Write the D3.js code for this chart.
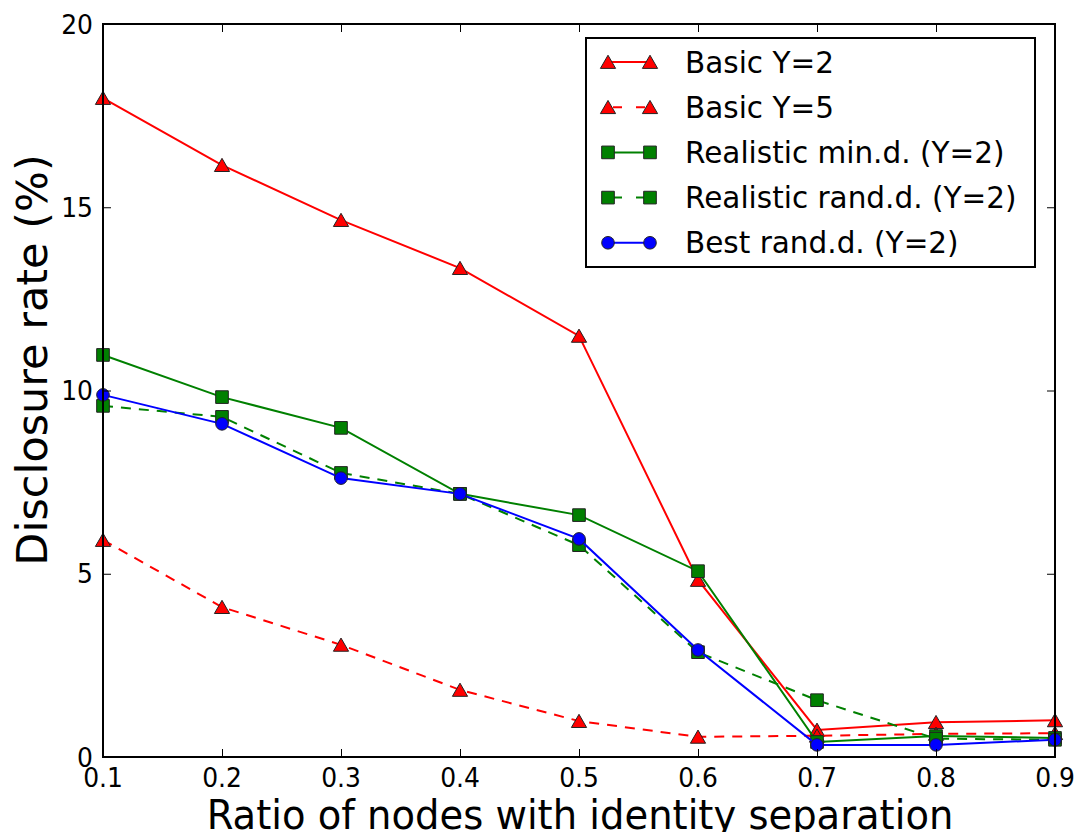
<!DOCTYPE html>
<html>
<head>
<meta charset="utf-8">
<script src="https://cdn.jsdelivr.net/npm/d3@7"></script>
<style>
  body { margin: 0; background: #fff; }
  text { font-family: "DejaVu Sans", sans-serif; fill: #000; }
</style>
</head>
<body>
<svg id="chart" width="1079" height="832"></svg>
<script>
// data
var ratios = [0.1, 0.2, 0.3, 0.4, 0.5, 0.6, 0.7, 0.8, 0.9];
var basicY2 = [17.98, 16.15, 14.65, 13.34, 11.49, 4.83, 0.74, 0.95, 1.0];
var basicY5 = [5.92, 4.09, 3.06, 1.83, 0.98, 0.55, 0.58, 0.63, 0.65];
var realMin = [10.97, 9.82, 8.98, 7.18, 6.6, 5.07, 0.41, 0.57, 0.52];
var realRand = [9.58, 9.28, 7.75, 7.18, 5.78, 2.86, 1.55, 0.5, 0.47];
var bestRand = [9.88, 9.09, 7.61, 7.18, 5.95, 2.92, 0.33, 0.33, 0.47];
var xTicks = [0.1, 0.2, 0.3, 0.4, 0.5, 0.6, 0.7, 0.8, 0.9];
var yTicks = [0, 5, 10, 15, 20];

var series = [
  { name: "Basic Y=2", vals: basicY2, color: "#ff0000", dash: null, marker: "triangle" },
  { name: "Basic Y=5", vals: basicY5, color: "#ff0000", dash: "10,8", marker: "triangle" },
  { name: "Realistic min.d. (Y=2)", vals: realMin, color: "#008000", dash: null, marker: "square" },
  { name: "Realistic rand.d. (Y=2)", vals: realRand, color: "#008000", dash: "10,8", marker: "square" },
  { name: "Best rand.d. (Y=2)", vals: bestRand, color: "#0000ff", dash: null, marker: "circle" }
];

var svg = d3.select("#chart");
var pLeft = 103, pRight = 1055, pTop = 24, pBottom = 757;
var stretch = 1.05; // text in the picture is a touch taller than it is wide

var x = d3.scaleLinear().domain([0.1, 0.9]).range([pLeft, pRight]);
var y = d3.scaleLinear().domain([0, 20]).range([pBottom, pTop]);

var plot = svg.append("g");

var symbols = {
  triangle: d3.symbol().type(d3.symbolTriangle).size(100),
  square: d3.symbol().type(d3.symbolSquare).size(160),
  circle: d3.symbol().type(d3.symbolCircle).size(125)
};

var line = d3.line().x(function(d, i) { return x(ratios[i]); }).y(function(d) { return y(d); });

series.forEach(function(s) {
  plot.append("path")
    .attr("d", line(s.vals))
    .attr("fill", "none")
    .attr("stroke", s.color)
    .attr("stroke-width", 2)
    .attr("stroke-dasharray", s.dash);
  plot.selectAll(null).data(s.vals).enter().append("path")
    .attr("d", symbols[s.marker])
    .attr("transform", function(d, i) {
      var dy = s.marker == "triangle" ? 2 : 0;
      return "translate(" + x(ratios[i]) + "," + (y(d) + dy) + ")";
    })
    .attr("fill", s.color)
    .attr("stroke", "#222")
    .attr("stroke-width", 1);
});

// frame
svg.append("rect")
  .attr("x", pLeft).attr("y", pTop)
  .attr("width", pRight - pLeft).attr("height", pBottom - pTop)
  .attr("fill", "none").attr("stroke", "#000").attr("stroke-width", 2);

// ticks inward on all sides
var xAxisB = d3.axisBottom(x).tickValues(xTicks).tickSize(-8).tickFormat("");
var xAxisT = d3.axisTop(x).tickValues(xTicks).tickSize(-8).tickFormat("");
var yAxisL = d3.axisLeft(y).tickValues(yTicks).tickSize(-8).tickFormat("");
var yAxisR = d3.axisRight(y).tickValues(yTicks).tickSize(-8).tickFormat("");

function styleAxis(g) {
  g.select(".domain").remove();
  g.selectAll(".tick line").attr("stroke", "#000").attr("stroke-width", 1);
}

svg.append("g").attr("transform", "translate(0," + pBottom + ")").call(xAxisB).call(styleAxis);
svg.append("g").attr("transform", "translate(0," + pTop + ")").call(xAxisT).call(styleAxis);
svg.append("g").attr("transform", "translate(" + pLeft + ",0)").call(yAxisL).call(styleAxis);
svg.append("g").attr("transform", "translate(" + pRight + ",0)").call(yAxisR).call(styleAxis);

// tick labels
svg.append("g").selectAll("text").data(xTicks).enter().append("text")
  .attr("transform", function(d) { return "translate(" + x(d) + ",787) scale(1," + stretch + ")"; })
  .attr("text-anchor", "middle").attr("font-size", 25)
  .text(d3.format(".1f"));

svg.append("g").selectAll("text").data(yTicks).enter().append("text")
  .attr("transform", function(d) { return "translate(93," + (y(d) + 9.5) + ") scale(1," + stretch + ")"; })
  .attr("text-anchor", "end").attr("font-size", 25)
  .text(function(d) { return d; });

// axis titles
svg.append("text")
  .attr("transform", "translate(580,829) scale(1," + stretch + ")")
  .attr("text-anchor", "middle").attr("font-size", 38.5)
  .text("Ratio of nodes with identity separation");

svg.append("text")
  .attr("transform", "translate(47,360) rotate(-90)")
  .attr("text-anchor", "middle").attr("font-size", 43)
  .text("Disclosure rate (%)");

// legend
var lg = svg.append("g");
lg.append("rect")
  .attr("x", 586).attr("y", 38).attr("width", 449).attr("height", 229)
  .attr("fill", "#fff").attr("stroke", "#000").attr("stroke-width", 2);

series.forEach(function(s, i) {
  var ly = 62 + i * 45.2;
  lg.append("line")
    .attr("x1", 608).attr("x2", 650).attr("y1", ly).attr("y2", ly)
    .attr("stroke", s.color).attr("stroke-width", 2)
    .attr("stroke-dasharray", s.dash ? "9,14" : null)
    .attr("stroke-dashoffset", s.dash ? -5 : null);
  [608, 650].forEach(function(px) {
    lg.append("path")
      .attr("d", symbols[s.marker])
      .attr("transform", "translate(" + px + "," + (ly + (s.marker == "triangle" ? 2 : 0)) + ")")
      .attr("fill", s.color).attr("stroke", "#222").attr("stroke-width", 1);
  });
  lg.append("text")
    .attr("transform", "translate(685," + (ly + 10.5) + ") scale(1," + stretch + ")")
    .attr("font-size", 29.5)
    .text(s.name);
});
</script>
</body>
</html>
